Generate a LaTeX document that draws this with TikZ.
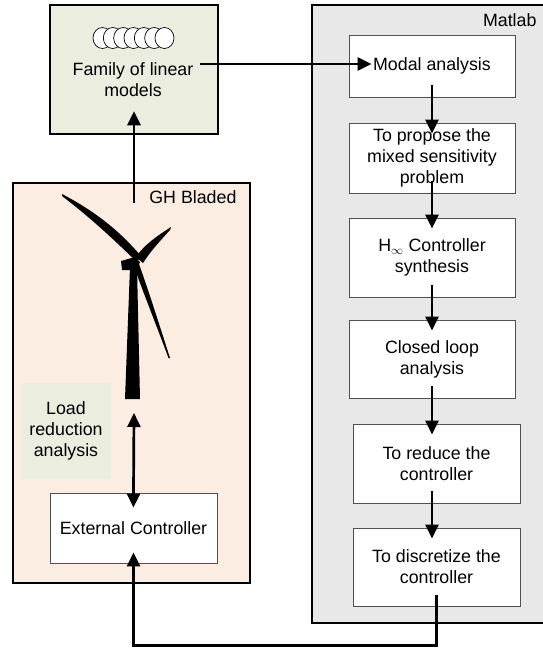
\documentclass[tikz,border=0pt]{standalone}
\usepackage{fontspec}
\setmainfont{Liberation Sans}
\usetikzlibrary{arrows.meta}

\definecolor{modelgreen}{HTML}{EBEEDF}
\definecolor{bladedpeach}{HTML}{FCEDE3}
\definecolor{matlabgray}{HTML}{E8E8E8}
\definecolor{boxline}{HTML}{505050}

\tikzset{
  outer/.style={draw=black, line width=2.5pt},
  stage/.style={draw=boxline, line width=0.9pt, fill=white, align=center,
    minimum width=166pt, inner sep=0pt},
  flow/.style={line width=2.7pt, -{Triangle[length=14pt,width=13pt]}},
  inflow/.style={flow, shorten <=-12pt, shorten >=-11pt},
}

\begin{document}
\begin{tikzpicture}[x=1pt, y=-1pt, font=\fontsize{17.8}{21}\selectfont]
\useasboundingbox (0,0) rectangle (542,648);

% containers
\draw[outer, fill=matlabgray] (312,5) rectangle (548,623);
\node[anchor=east] (matlab) at (540,20) {Matlab};
\draw[outer, fill=bladedpeach] (13,183) rectangle (250,583);
\node[anchor=east] (bladed) at (240,197) {GH Bladed};

% family of linear models
\node[outer, fill=modelgreen, minimum width=168pt, minimum height=129pt] (fam) at (134,69.5) {};
\foreach \i in {0,...,6}
  \filldraw[fill=white, line width=0.7pt] (102.5+10.33*\i,38) ellipse (9.5 and 10.5);
\node[align=center, inner sep=0pt] (famlbl) at (133,80) {Family of linear\\models};

% matlab stages
\node[stage, minimum height=62pt] (modal) at (432,66) {Modal analysis};
\node[stage, minimum height=70pt] (propose) at (432,158) {To propose the\\mixed sensitivity\\problem};
\node[stage, minimum height=79pt] (hinf) at (432,257.5) {H$_{\infty}$ Controller\\synthesis};
\node[stage, minimum height=78pt] (closed) at (432,359) {Closed loop\\analysis};
\node[stage, minimum width=167pt, minimum height=79pt] (reduce) at (436.5,463.5) {To reduce the\\controller};
\node[stage, minimum width=167pt, minimum height=78pt] (discr) at (436.5,567) {To discretize the\\controller};

% bladed side
\node[fill=modelgreen, minimum width=90pt, minimum height=96pt, align=center, inner sep=0pt] (load) at (66,431) {Load\\reduction\\analysis};
\node[stage, minimum width=167pt, minimum height=70pt] (ext) at (133.5,528) {External Controller};

% wind turbine
\fill (125,399) -- (140,399) -- (137,267) -- (130,267) -- cycle;
\fill (121,261) -- (135,257) -- (140,262) -- (137,270) -- (122,270) -- cycle;
\fill (62,194) .. controls (100,214) and (122,234) .. (141,256) -- (137,262) .. controls (118,244) and (96,222) .. (62,196) -- cycle;
\fill (136,257) .. controls (144,245) and (157,236) .. (171,227) -- (170,230) .. controls (159,242) and (150,252) .. (143,263) -- cycle;
\fill (139,264) .. controls (150,295) and (161,330) .. (170,358) -- (168.5,358) .. controls (157,327) and (145,297) .. (134.5,268) -- cycle;
\coordinate (rotortop) at (134,203);
\coordinate (towerfoot) at (134,413);

% connectors
\draw[flow] (famlbl.east |- 0,64) ++(6,0) -- ([xshift=23pt]modal.west |- 0,64);
\draw[flow] (rotortop) -- ([yshift=24pt]fam.south);
\draw[inflow] (modal.south) -- (propose.north);
\draw[inflow] (propose.south) -- (hinf.north);
\draw[inflow] (hinf.south) -- (closed.north);
\draw[inflow] (closed.south) -- (closed.south |- reduce.north);
\draw[inflow] (reduce.south -| closed) -- (discr.north -| closed);
\draw[line width=2.7pt, {Triangle[length=14pt,width=13pt]}-{Triangle[length=14pt,width=13pt]}, shorten >=-15pt] (towerfoot) -- (ext.north);
\draw[flow, shorten <=-11pt, shorten >=-11pt] (discr.south) -- ++(0,39) -| (ext.south);

\end{tikzpicture}
\end{document}
